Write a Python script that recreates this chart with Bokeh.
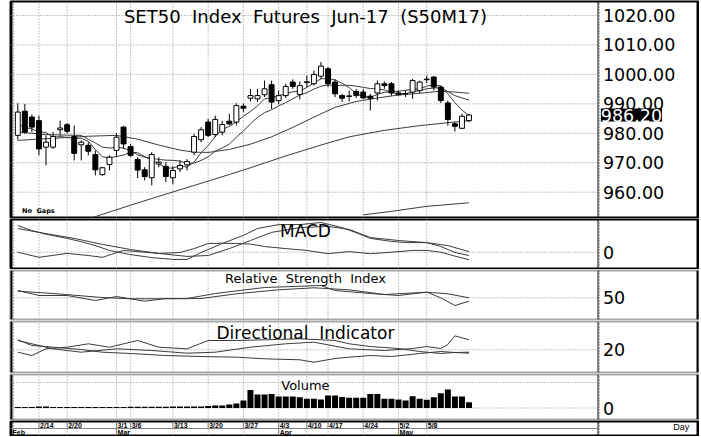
from bokeh.plotting import figure
from bokeh.layouts import column
from bokeh.models import Range1d, Label, ColumnDataSource
from bokeh.core.properties import value
from bokeh.embed import file_html
from bokeh.resources import INLINE

# ---------------- data ----------------
opens = [979.3, 987.5, 985.5, 984.3, 975.3, 975.3, 981.2, 982.9, 978.9, 976.1,
         975.9, 972.8, 966.0, 969.4, 974.2, 982.1, 975.5, 971.1, 967.6, 964.9,
         969.6, 968.8, 964.9, 967.9, 969.3, 973.6, 977.8, 983.8, 979.6, 980.4,
         984.1, 983.8, 989.2, 991.9, 991.7, 993.1, 996.5, 991.1, 992.8, 997.4,
         993.2, 997.2, 996.8, 999.4, 1001.9, 997.4, 992.8, 992.5, 994.2, 994.0,
         992.6, 993.7, 996.8, 996.8, 993.7, 993.3, 994.0, 994.5, 998.2, 999.1,
         995.7, 990.3, 983.2, 981.7, 984.3]
highs = [990.2, 990.0, 986.4, 986.0, 979.3, 980.4, 984.3, 983.5, 982.6, 977.6,
         977.0, 974.2, 968.6, 972.5, 980.0, 982.5, 976.4, 971.9, 968.5, 973.6,
         971.9, 970.2, 968.8, 970.8, 971.2, 979.8, 982.1, 984.9, 986.0, 984.3,
         986.6, 990.2, 990.0, 995.1, 995.1, 997.9, 997.9, 994.5, 996.8, 998.3,
         997.6, 999.6, 1001.3, 1004.2, 1002.5, 998.3, 993.4, 994.5, 995.0, 995.1,
         993.4, 997.9, 997.6, 997.4, 994.5, 994.5, 998.5, 997.9, 999.6, 999.4,
         996.2, 991.1, 983.8, 986.6, 986.6]
lows = [977.8, 979.8, 980.4, 972.5, 969.1, 974.7, 979.3, 980.0, 970.8, 970.8,
        972.5, 965.7, 965.5, 967.4, 971.9, 974.8, 971.9, 964.8, 964.0, 962.3,
        968.5, 963.4, 962.7, 966.8, 967.4, 972.5, 977.0, 978.7, 978.7, 979.3,
        982.7, 982.7, 987.2, 990.8, 990.6, 992.3, 988.3, 989.8, 992.0, 995.1,
        991.5, 995.7, 996.2, 998.4, 995.7, 992.3, 990.6, 990.8, 992.0, 991.7,
        987.7, 991.1, 995.1, 992.8, 992.8, 992.3, 991.7, 993.5, 997.1, 994.5,
        990.3, 982.6, 980.6, 981.5, 983.8]
closes = [987.2, 980.4, 982.1, 974.7, 977.0, 978.9, 981.8, 980.7, 973.2, 977.0,
          973.9, 967.6, 968.3, 971.9, 978.7, 976.4, 972.5, 967.5, 965.3, 972.8,
          970.2, 965.3, 967.4, 969.1, 970.4, 978.9, 981.2, 979.3, 984.7, 983.0,
          983.2, 989.4, 988.5, 992.8, 992.8, 995.1, 990.6, 992.8, 995.9, 995.9,
          996.2, 997.5, 1000.0, 1002.8, 996.8, 993.4, 991.9, 992.7, 992.8, 992.0,
          991.9, 996.8, 996.2, 993.7, 993.1, 993.5, 997.9, 997.4, 998.4, 995.7,
          991.1, 984.7, 982.4, 985.8, 986.2]
volume = [10, 10, 10, 15, 15, 10, 10, 10, 10, 10,
          10, 10, 10, 10, 10, 10, 13, 13, 13, 13,
          13, 13, 15, 15, 15, 15, 15, 20, 25, 25,
          35, 45, 75, 180, 135, 135, 140, 115, 115, 115,
          108, 92, 92, 85, 125, 125, 110, 102, 102, 102,
          140, 140, 92, 92, 85, 75, 118, 92, 82, 108,
          148, 185, 115, 115, 58]

ma5 = [983.0, 982.0, 981.5, 980.5, 980.3, 978.6, 978.9, 978.6, 978.3, 978.3,
       977.3, 974.5, 972.0, 971.7, 972.1, 972.6, 973.6, 973.4, 972.1, 970.9,
       969.6, 968.2, 968.2, 969.0, 968.5, 970.2, 973.4, 975.8, 978.9, 981.4,
       982.3, 983.9, 985.8, 987.4, 989.3, 991.7, 992.0, 992.8, 993.4, 994.1,
       994.3, 995.6, 997.1, 998.5, 998.6, 998.1, 997.0, 995.5, 993.5, 992.5,
       992.2, 993.2, 993.9, 994.1, 994.3, 994.6, 994.9, 995.1, 996.0, 996.5,
       996.1, 993.4, 990.4, 987.9, 986.0]
ma10 = [980.5, 980.2, 980.0, 979.8, 979.6, 979.5, 979.4, 979.4, 979.3, 979.3,
        978.0, 976.7, 975.3, 975.0, 975.2, 975.0, 974.1, 972.7, 971.9, 971.5,
        971.1, 970.9, 970.8, 970.6, 969.7, 969.9, 970.8, 972.0, 974.0, 975.0,
        976.3, 978.7, 980.8, 983.2, 985.4, 987.0, 988.0, 989.3, 990.4, 991.7,
        993.0, 993.8, 995.0, 996.0, 996.4, 996.2, 996.3, 996.3, 996.0, 995.6,
        995.2, 995.1, 994.7, 993.8, 993.4, 993.4, 994.1, 994.5, 995.1, 995.4,
        995.4, 994.2, 992.8, 992.0, 991.3]
ma25_x = [0, 5, 10, 14, 17, 20, 23, 25, 27, 30, 33, 36, 39, 42, 45, 48, 51, 54, 57, 60, 62, 64]
ma25 = [977.6, 978.3, 979.0, 979.3, 978.0, 976.0, 974.3, 973.6, 973.5, 974.5, 976.3,
        978.8, 982.0, 985.5, 988.8, 990.8, 992.0, 993.0, 993.6, 994.3, 994.0, 993.6]
ma75_x = [8, 11, 16, 20, 25, 30, 33, 38, 43, 47, 52, 57, 61, 64]
ma75 = [949.5, 951.7, 955.6, 958.6, 962.3, 966.0, 968.3, 972.3, 976.0, 978.8,
        981.0, 982.6, 983.6, 984.3]
ma200_x = [49, 53, 58, 64]
ma200 = [952.3, 953.5, 955.2, 956.4]

macd_x = [0, 2, 4, 7, 9, 11, 13, 16, 19, 22, 24, 26, 29, 32, 34, 37, 40, 43, 46, 48, 50, 53, 55, 58, 60, 62, 64]
macd = [8.9, 7.2, 6.0, 4.6, 3.5, 2.2, 0.6, -0.8, -1.8, -2.4, -2.4, -0.1, 2.9, 5.6, 7.9,
        9.2, 9.2, 9.9, 8.2, 6.5, 4.6, 3.6, 3.2, 3.2, 1.9, -0.1, -1.1]
signal_x = [0, 4, 8, 12, 16, 20, 24, 27, 30, 33, 36, 40, 44, 47, 50, 54, 58, 61, 64]
signal = [7.9, 6.2, 4.6, 2.6, 0.9, -0.4, -1.4, -1.1, 1.2, 3.9, 6.6, 8.2, 8.6, 7.6,
          4.9, 3.9, 3.2, 2.2, 0.2]
hist_x = [0, 3, 7, 10, 12, 15, 17, 20, 23, 25, 27, 29, 31, 33, 35, 38, 41, 44, 47, 50, 53, 56, 58, 60, 62, 64]
hist = [0.0, -1.7, -0.4, -1.1, -1.7, 0.6, 0.2, -0.4, -0.1, 1.2, 2.9, 3.0, 2.9, 2.7,
        1.9, 1.2, 0.6, -0.5, 0.2, -0.5, 0.0, 0.6, 0.6, 0.0, -1.3, -2.5]

rsi_x = [0, 3, 7, 11, 14, 18, 21, 24, 28, 35, 43, 45, 50, 54, 58, 60, 62, 64]
rsi = [64.6, 54.6, 54.6, 44.6, 52.6, 43.2, 48.6, 48.6, 58.6, 70.6, 74.6, 64.6, 58.6,
       54.6, 61.2, 50.0, 34.6, 43.2]
rsi_ma_x = [0, 5, 12, 16, 22, 26, 31, 37, 42, 47, 52, 58, 61, 64]
rsi_ma = [63.2, 58.6, 50.6, 48.0, 48.0, 48.6, 58.0, 66.0, 70.0, 66.0, 56.6, 61.2, 58.0, 50.0]

adx_x = [0, 2, 5, 9, 12, 16, 21, 26, 31, 35, 40, 42, 45, 47, 50, 53, 57, 60, 62, 64]
adx = [30.0, 24.3, 22.6, 20.3, 17.6, 16.3, 14.3, 13.3, 12.6, 11.0, 10.0, 7.6, 11.3,
       12.6, 14.3, 13.3, 16.3, 18.3, 17.3, 16.6]
dip_x = [0, 2, 4, 7, 10, 13, 17, 20, 24, 27, 31, 35, 40, 45, 47, 50, 54, 57, 60, 62, 64]
dip = [17.6, 14.3, 21.0, 22.6, 26.0, 22.6, 29.3, 22.6, 21.0, 29.3, 29.3, 30.0, 31.0,
       29.3, 26.0, 23.3, 21.3, 18.3, 16.3, 17.3, 17.6]
dim_x = [0, 5, 9, 14, 19, 24, 28, 33, 38, 42, 47, 52, 56, 58, 60, 61, 62, 64]
dim = [29.3, 21.0, 17.6, 21.0, 19.3, 16.6, 17.6, 22.6, 26.0, 27.6, 21.0, 19.3, 21.3,
       23.3, 21.3, 25.3, 34.0, 30.0]

price_ticks = [1020, 1010, 1000, 990, 980, 970, 960]
price_labels = ["1020.00", "1010.00", "1000.00", "990.00", "980.00", "970.00", "960.00"]
last_price = 986.20
date_idx = [3, 7, 14, 16, 22, 27, 32, 37, 41, 44, 49, 54, 58]
date_labels = ["2/14", "2/20", "3/1", "3/6", "3/13", "3/20", "3/27", "4/3", "4/10", "4/17", "4/24", "5/2", "5/8"]
month_idx = [-0.9, 14, 37, 54]
month_labels = ["Feb", "Mar", "Apr", "May"]

# ---------------- layout constants ----------------
W = 699
XR0, XR1 = -1.035, 96.55
XDIV = 82.3
XLAB = 83.0
XMID = 40.8
XRULE = -0.6
FONT = value("DejaVu Sans")
SMALL = value("Liberation Sans")
GRID = "#8c8c8c"
LINE = "#3c3c3c"
SEP = "#a8a8a8"

xr = Range1d(XR0, XR1)


def panel(height, y0, y1, outline=SEP, ow=2):
    p = figure(width=W, height=height, x_range=xr, y_range=Range1d(y0, y1),
               x_axis_location=None, y_axis_location=None,
               output_backend="svg", toolbar_location=None,
               min_border_left=10, min_border_right=1, min_border_top=1, min_border_bottom=1)
    p.grid.grid_line_color = None
    p.outline_line_color = outline
    p.outline_line_width = ow
    p.background_fill_color = "white"
    p.border_fill_color = "white"
    # vertical date grid
    p.segment(x0=date_idx, x1=date_idx, y0=[y0] * len(date_idx), y1=[y1] * len(date_idx),
              line_color=GRID, line_dash="1 2", line_width=1)
    # left ruler
    p.segment(x0=[XRULE], x1=[XRULE], y0=[y0], y1=[y1], line_color="#606060",
              line_dash="1 2", line_width=1)
    # right divider
    p.segment(x0=[XDIV], x1=[XDIV], y0=[y0], y1=[y1], line_color="black", line_width=1)
    p.segment(x0=[XDIV + 0.2], x1=[XDIV + 0.2], y0=[y0], y1=[y1], line_color="#606060",
              line_dash="1 2", line_width=1)
    # outer black frame sides
    p.segment(x0=[XR0, XR1], x1=[XR0, XR1], y0=[y0, y0], y1=[y1, y1],
              line_color="black", line_width=4)
    return p


def hgrid(p, ys):
    p.segment(x0=[XR0] * len(ys), x1=[XDIV] * len(ys), y0=ys, y1=ys,
              line_color=GRID, line_dash="1 2", line_width=1)


def right_labels(p, ys, labels, size="17.5px"):
    p.text(x=[XLAB] * len(ys), y=ys, text=labels, text_font=FONT, text_font_size=size,
           text_baseline="middle", text_align="left", text_color="black")


def title(p, y, text, size):
    p.text(x=[XMID], y=[y], text=[text], text_font=FONT, text_font_size=size,
           text_baseline="middle", text_align="center", text_color="black")


n = len(closes)
idx = list(range(n))
SP = "\u00a0 "

# ---------------- main price panel ----------------
main = panel(218, 951.41, 1024.75, outline="black", ow=2)
hgrid(main, price_ticks)
top = [max(o, c) for o, c in zip(opens, closes)]
bot = [min(o, c) for o, c in zip(opens, closes)]
fill = ["white" if c >= o else "black" for o, c in zip(opens, closes)]
src = ColumnDataSource(dict(x=idx, high=highs, low=lows, top=top, bot=bot, fill=fill))
main.line(idx, ma5, line_color=LINE, line_width=1)
main.line(idx, ma10, line_color=LINE, line_width=1)
main.line(ma25_x, ma25, line_color=LINE, line_width=1)
main.line(ma75_x, ma75, line_color=LINE, line_width=1)
main.line(ma200_x, ma200, line_color=LINE, line_width=1)
main.segment(x0="x", x1="x", y0="high", y1="low", source=src, line_color="black", line_width=1)
main.vbar(x="x", width=0.7, top="top", bottom="bot", source=src, fill_color="fill",
          line_color="black", line_width=1)
right_labels(main, price_ticks, price_labels)
title(main, 1019.7, "SET50" + SP + "Index" + SP + "Futures" + SP + "Jun-17" + SP + "(S50M17)", "18px")
main.text(x=[0.6], y=[953.45], text=["No" + SP + "Gaps"], text_font=FONT, text_font_size="6.5px",
          text_font_style="bold", text_baseline="middle", text_align="left")
main.add_layout(Label(x=XLAB - 0.3, y=last_price, text="%.2f" % last_price,
                      text_color="white", background_fill_color="black",
                      text_font="DejaVu Sans", text_font_size="17.5px",
                      text_baseline="middle", text_align="left"))

# ---------------- MACD ----------------
pm = panel(51, -5.43, 10.9, outline="black", ow=2)
hgrid(pm, [0])
pm.line(macd_x, macd, line_color=LINE, line_width=1)
pm.line(signal_x, signal, line_color=LINE, line_width=1)
pm.line(hist_x, hist, line_color=LINE, line_width=1)
title(pm, 7.0, "MACD", "17px")
right_labels(pm, [0], ["0"])

# ---------------- RSI ----------------
pr = panel(51, 6.6, 104.6)
hgrid(pr, [50])
pr.line(rsi_x, rsi, line_color=LINE, line_width=1)
pr.line(rsi_ma_x, rsi_ma, line_color=LINE, line_width=1)
title(pr, 88, "Relative" + SP + "Strength" + SP + "Index", "13px")
right_labels(pr, [50], ["50"])

# ---------------- DI ----------------
pd_ = panel(53, -2.7, 48.3)
hgrid(pd_, [20])
pd_.line(adx_x, adx, line_color=LINE, line_width=1)
pd_.line(dip_x, dip, line_color=LINE, line_width=1)
pd_.line(dim_x, dim, line_color=LINE, line_width=1)
title(pd_, 36.5, "Directional" + SP + "Indicator", "17px")
right_labels(pd_, [20], ["20"])

# ---------------- Volume ----------------
pv = panel(47, -115, 335)
hgrid(pv, [0, 255])
pv.vbar(x=idx, width=0.85, top=volume, bottom=0, fill_color="black", line_color=None)
title(pv, 225, "Volume", "13px")
right_labels(pv, [0], ["0"])

# ---------------- date axis ----------------
pa = panel(16, 0, 2)
pa.outline_line_color = "black"
pa.segment(x0=[XR0], x1=[XDIV], y0=[1], y1=[1], line_color="#808080", line_width=1)
pa.segment(x0=date_idx, x1=date_idx, y0=[1] * len(date_idx), y1=[2] * len(date_idx),
           line_color="#808080", line_width=1)
pa.text(x=[d + 0.15 for d in date_idx], y=[1.5] * len(date_idx), text=date_labels,
        text_font=SMALL, text_font_size="7px", text_font_style="bold",
        text_baseline="middle", text_align="left")
pa.segment(x0=month_idx[1:], x1=month_idx[1:], y0=[0] * 3, y1=[1] * 3,
           line_color="#808080", line_width=1)
pa.text(x=[m + 0.15 for m in month_idx], y=[0.5] * len(month_idx), text=month_labels,
        text_font=SMALL, text_font_size="7px", text_font_style="bold",
        text_baseline="middle", text_align="left")
pa.text(x=[94.1], y=[1.2], text=["Day"], text_font=SMALL, text_font_size="9px",
        text_baseline="middle", text_align="center")

layout = column(main, pm, pr, pd_, pv, pa, spacing=0)
open("out.html", "w").write(file_html(layout, INLINE))
